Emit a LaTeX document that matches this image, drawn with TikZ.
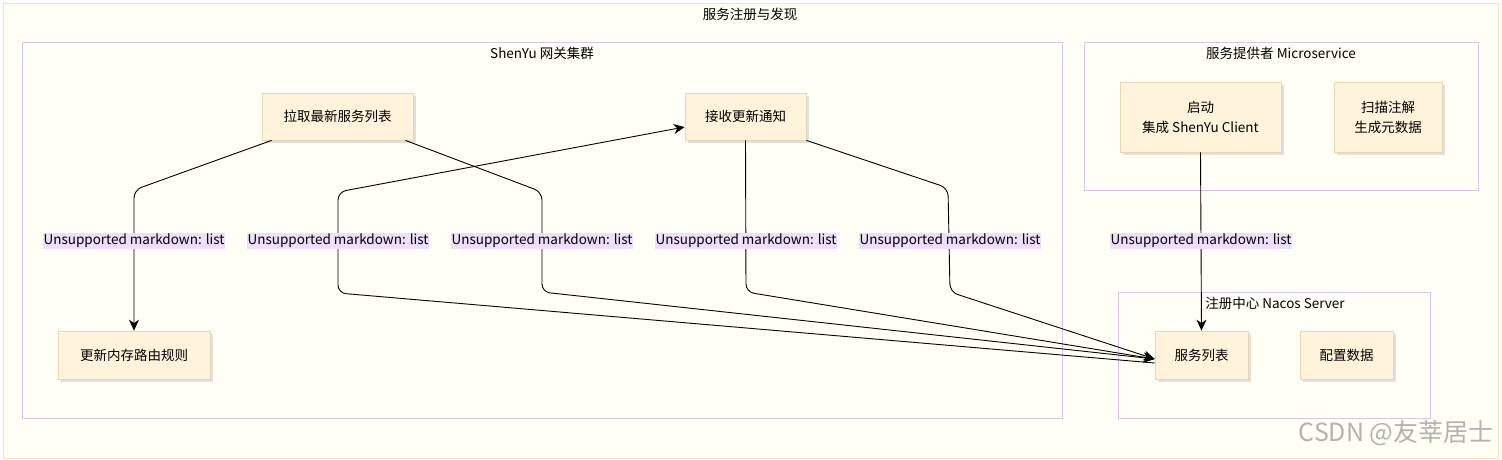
\documentclass[tikz,border=0pt]{standalone}
\usepackage{fontspec}
\setmainfont{Noto Sans CJK SC}
\usetikzlibrary{arrows.meta}
\definecolor{outerfill}{HTML}{FFFFF6}
\definecolor{outerdraw}{HTML}{ECE6C0}
\definecolor{clusterdraw}{HTML}{DCC4F2}
\definecolor{nodefill}{HTML}{FFF3DC}
\definecolor{nodedraw}{HTML}{E6D6B4}
\definecolor{lblfill}{HTML}{EEDDFB}
\tikzset{
  box/.style={draw=nodedraw,fill=nodefill,line width=0.8pt,font=\fontsize{13.5}{20}\selectfont,align=center,inner sep=0pt},
  cluster/.style={draw=clusterdraw,fill=outerfill,line width=0.9pt},
  lbl/.style={fill=lblfill,inner sep=1pt,font=\fontsize{13.5}{15}\selectfont},
  conn/.style={draw=black,line width=0.9pt,rounded corners=8pt,-{Stealth[length=11pt,width=10pt]}},
  ttl/.style={font=\fontsize{13.5}{15}\selectfont}
}
\begin{document}
\begin{tikzpicture}[x=1pt,y=-1pt]
\useasboundingbox (0,0) rectangle (1502,460);
\draw[draw=outerdraw,fill=outerfill,line width=0.9pt] (3,3) rectangle (1498,458);
\node[ttl] (t0) at (750,14) {服务注册与发现};
\draw[cluster] (22,42) rectangle (1062,418);
\node[ttl] (t1) at (542,53) {ShenYu 网关集群};
\draw[cluster] (1084,42) rectangle (1478,190);
\node[ttl] (t2) at (1281,53) {服务提供者 Microservice};
\draw[cluster] (1118,292) rectangle (1430,418);
\node[ttl] (t3) at (1275,303) {注册中心 Nacos Server};
\fill[black!12] (265,96) rectangle (416,143);
\node[box,minimum width=151pt,minimum height=47pt] (pull) at (337.5,116.5) {拉取最新服务列表};
\fill[black!12] (688,96) rectangle (809,143);
\node[box,minimum width=121pt,minimum height=47pt] (recv) at (745.5,116.5) {接收更新通知};
\fill[black!12] (61,334) rectangle (213,382);
\node[box,minimum width=152pt,minimum height=48pt] (upd) at (134,355) {更新内存路由规则};
\fill[black!12] (1123,85) rectangle (1284,155);
\node[box,minimum width=161pt,minimum height=70pt] (start) at (1200.5,117) {启动\\集成 ShenYu Client};
\fill[black!12] (1337,85) rectangle (1445,155);
\node[box,minimum width=108pt,minimum height=70pt] (scan) at (1388,117) {扫描注解\\生成元数据};
\fill[black!12] (1158,334) rectangle (1251,382);
\node[box,minimum width=93pt,minimum height=48pt] (list) at (1201.5,355) {服务列表};
\fill[black!12] (1303,334) rectangle (1396,382);
\node[box,minimum width=93pt,minimum height=48pt] (cfg) at (1346.5,355) {配置数据};
% connectors
\draw[conn] (pull.south west)++(10,0) -- (134,190) -- (upd.north);
\draw[conn] ([yshift=-8pt]list.west) -- (338,293) -- (338,192) -- (recv.west|-0,127);
\draw[conn] (pull.south east)++(-8,0) -- (542,192) -- (542,292) -- ([yshift=-4pt]list.west);
\draw[conn] (recv.south) -- (746,292) -- ([yshift=-4pt]list.west);
\draw[conn] (recv.south east) -- (948,188) -- (950,292) -- ([yshift=-4pt]list.west);
\draw[conn] (start.south) -- (list.north);
\node[lbl] (l1) at (134,241) {Unsupported markdown: list};
\node[lbl] (l2) at (338,241) {Unsupported markdown: list};
\node[lbl] (l3) at (542,241) {Unsupported markdown: list};
\node[lbl] (l4) at (746,241) {Unsupported markdown: list};
\node[lbl] (l5) at (950,241) {Unsupported markdown: list};
\node[lbl] (l6) at (1201,241) {Unsupported markdown: list};
\node[text=black!30,font=\fontsize{25}{28}\selectfont,anchor=east] (wm) at (1497,433) {CSDN @友莘居士};
\end{tikzpicture}
\end{document}
